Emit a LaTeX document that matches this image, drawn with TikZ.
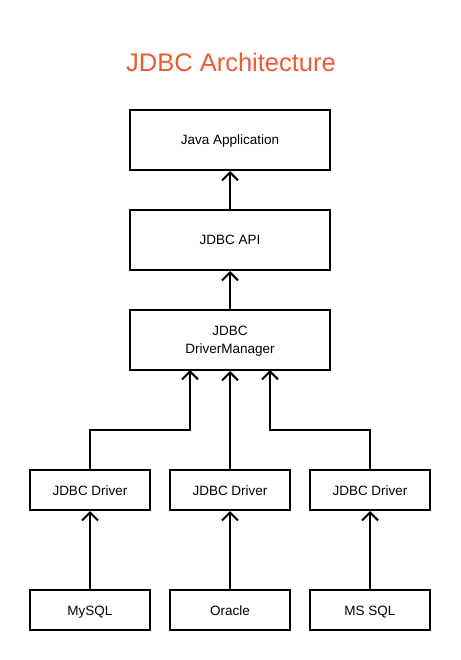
\documentclass[tikz,border=0pt]{standalone}
\usepackage{fontspec}
\setmainfont{Liberation Sans}
\usetikzlibrary{arrows.meta}
\definecolor{titleorange}{RGB}{240,90,50}
\begin{document}
\begin{tikzpicture}[
    x=1pt, y=-1pt,
    layer/.style={draw, line width=2pt, fill=white, text depth=0pt,
                  minimum width=200pt, minimum height=60pt, font=\fontsize{13.5}{18}\selectfont, align=center},
    driver/.style={draw, line width=2pt, fill=white, text height=11pt, text depth=0pt,
                   minimum width=120pt, minimum height=40pt, font=\fontsize{13.5}{16}\selectfont, align=center},
    link/.style={-{Straight Barb[length=8pt, width=16pt, line width=2pt]}, line width=2pt},
  ]
    \useasboundingbox (0,0) rectangle (460,660);
    \node[text=titleorange, font=\fontsize{25.5}{30}\selectfont] (title) at (231,62) {JDBC Architecture};

    \node[layer] (app) at (230,140) {Java Application};
    \node[layer] (api) at (230,240) {JDBC API};
    \node[layer] (mgr) at (230,340) {JDBC\\DriverManager};

    \node[driver] (drvA) at (90,490) {JDBC Driver};
    \node[driver] (drvB) at (230,490) {JDBC Driver};
    \node[driver] (drvC) at (370,490) {JDBC Driver};

    \node[driver] (mysql) at (90,610) {MySQL};
    \node[driver] (oracle) at (230,610) {Oracle};
    \node[driver] (mssql) at (370,610) {MS SQL};

    % layers
    \draw[link] (api) -- (app);
    \draw[link] (mgr) -- (api);

    % drivers to manager
    \coordinate (inA) at (190,370);
    \coordinate (inC) at (270,370);
    \draw[link] (drvA.north) |- (190,430) -- (inA);
    \draw[link] (drvB) -- (mgr);
    \draw[link] (drvC.north) |- (270,430) -- (inC);

    % databases to drivers
    \draw[link] (mysql) -- (drvA);
    \draw[link] (oracle) -- (drvB);
    \draw[link] (mssql) -- (drvC);
\end{tikzpicture}
\end{document}
